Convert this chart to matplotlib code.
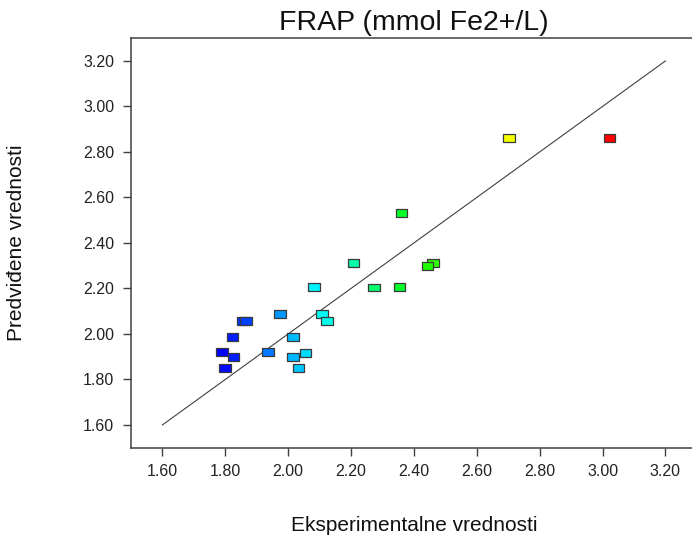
import numpy as np
import matplotlib
matplotlib.use('Agg')
import matplotlib.pyplot as plt
from matplotlib.colors import LinearSegmentedColormap
from matplotlib.path import Path

plt.rcParams['font.family'] = ['Liberation Sans', 'DejaVu Sans']

# eksperimentalne (actual) i predvidjene (predicted) vrednosti
actual = [1.789, 1.799, 1.826, 1.823, 1.856, 1.867, 1.936, 1.975, 2.016, 2.015,
          2.055, 2.033, 2.083, 2.108, 2.123, 2.208, 2.274, 2.354, 2.361, 2.461,
          2.443, 2.702, 3.022]
predicted = [1.921, 1.852, 1.898, 1.985, 2.056, 2.058, 1.921, 2.089, 1.985, 1.898,
             1.915, 1.852, 2.208, 2.089, 2.058, 2.313, 2.204, 2.207, 2.532, 2.311,
             2.298, 2.862, 2.862]
ticks = [1.60, 1.80, 2.00, 2.20, 2.40, 2.60, 2.80, 3.00, 3.20]

cmap = LinearSegmentedColormap.from_list(
    'de', ['#0000ff', '#00ffff', '#00ff00', '#ffff00', '#ff0000'])

# pravougaoni marker
rect = Path([(-1.5, -1.0), (1.5, -1.0), (1.5, 1.0), (-1.5, 1.0), (-1.5, -1.0)],
            [Path.MOVETO, Path.LINETO, Path.LINETO, Path.LINETO, Path.CLOSEPOLY])

fig = plt.figure(figsize=(6.92, 5.41), dpi=100)
ax = fig.add_axes([0.1892, 0.1724, 0.8178, 0.757])

ax.plot([ticks[0], ticks[-1]], [ticks[0], ticks[-1]], color='#404040', lw=0.8, zorder=1)
ax.scatter(actual, predicted, c=actual, cmap=cmap, marker=rect, s=8.4**2,
           edgecolors='#3a3a3a', linewidths=0.9, zorder=2)

ax.set_xlim(1.5, 3.3)
ax.set_ylim(1.5, 3.3)
ax.set_xticks(ticks)
ax.set_yticks(ticks)
ax.set_xticklabels(['%.2f' % t for t in ticks])
ax.set_yticklabels(['%.2f' % t for t in ticks])
ax.tick_params(direction='out', length=6, width=1.0, color='#404040',
               labelsize=11.5, pad=6, labelcolor='#222222')
for s in ax.spines.values():
    s.set_color('#404040')
    s.set_linewidth(1.1)

ax.set_title('FRAP (mmol Fe2+/L)', fontsize=20.5, pad=6, color='#111111')
ax.set_xlabel('Eksperimentalne vrednosti', fontsize=15, labelpad=26, color='#111111')
ax.set_ylabel('Predviđene vrednosti', fontsize=15, labelpad=41, color='#111111')

fig.savefig('out.png', dpi=100)
